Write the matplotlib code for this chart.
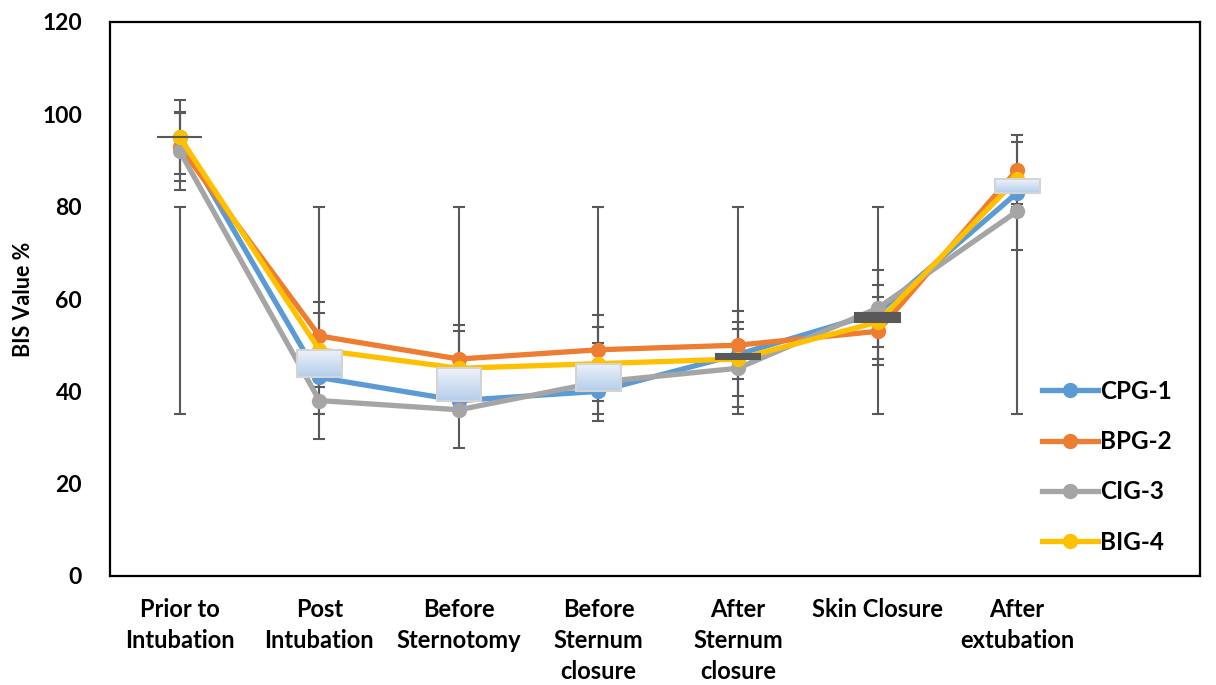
import matplotlib
matplotlib.use("Agg")
import matplotlib.pyplot as plt
import numpy as np
from matplotlib.patches import Rectangle

plt.rcParams['font.family'] = ['Lato', 'DejaVu Sans']

categories = ["Prior to\nIntubation", "Post\nIntubation", "Before\nSternotomy",
              "Before\nSternum\nclosure", "After\nSternum\nclosure", "Skin Closure",
              "After\nextubation"]

cpg1 = [95, 43, 38, 40, 48, 57, 83]
bpg2 = [93, 52, 47, 49, 50, 53, 88]
cig3 = [92, 38, 36, 42, 45, 58, 79]
big4 = [95, 49, 45, 46, 47, 55, 86]

bpg2_sd = [7.4, 7.3, 7.4, 7.5, 7.4, 7.4, 7.5]
cig3_sd = [8.3, 8.3, 8.3, 8.4, 8.4, 8.3, 8.4]
big4_sd = [8, 8, 8, 8, 8, 8, 8]

range_low = [35, 35, 35, 35, 35, 35, 35]
range_high = [80, 80, 80, 80, 80, 80, 80]

colors = {"CPG-1": "#5B9BD5", "BPG-2": "#ED7D31", "CIG-3": "#A5A5A5", "BIG-4": "#FFC000"}
err_col = "#595959"

fig = plt.figure(figsize=(12.16, 6.85), dpi=100)
ax = fig.add_axes([110/1216, 1-576/685, 1090/1216, 554/685])

x = np.arange(len(categories))

# range bars 35-80
lo = np.array(range_low)
hi = np.array(range_high)
ax.errorbar(x, (lo+hi)/2, yerr=(hi-lo)/2, fmt='none', ecolor=err_col,
            elinewidth=1.5, capsize=4.5, capthick=1.5, zorder=1)

for vals, sd in [(bpg2, bpg2_sd), (cig3, cig3_sd), (big4, big4_sd)]:
    ax.errorbar(x, vals, yerr=sd, fmt='none', ecolor=err_col,
                elinewidth=1.5, capsize=4.5, capthick=1.5, zorder=1)

for name, vals in [("CPG-1", cpg1), ("BPG-2", bpg2), ("CIG-3", cig3), ("BIG-4", big4)]:
    ax.plot(x, vals, '-o', color=colors[name], lw=3.8, ms=10, label=name, zorder=3)

# up-down bars between first and last series
bw = 0.32
grad = np.linspace(0, 1, 64).reshape(-1, 1)
cmap = matplotlib.colors.LinearSegmentedColormap.from_list("ud", ["#B4CDEB", "#EEF3FA"])
for xi, a, b in zip(x, cpg1, big4):
    if b > a:
        ax.imshow(grad, extent=[xi-bw/2, xi+bw/2, a, b], origin='lower', cmap=cmap,
                  aspect='auto', zorder=4)
        ax.add_patch(Rectangle((xi-bw/2, a), bw, b-a, fill=False, ec="#D4D4D4", lw=1.5, zorder=5))
    else:
        ax.add_patch(Rectangle((xi-bw/2, b), bw, a-b, fc="#595959", ec="#595959", lw=1.5, zorder=5))

ax.set_xlim(-0.5, 7.31)
ax.set_ylim(0, 120)
ax.set_yticks(range(0, 121, 20))
ax.set_xticks(x)
ax.set_xticklabels(categories, fontsize=17, fontweight='bold', linespacing=1.42, va='top')
for t in ax.get_yticklabels():
    t.set_fontsize(16.5)
    t.set_fontweight('bold')
ax.tick_params(axis='x', length=0, pad=16)
ax.tick_params(axis='y', length=0, pad=20)
ax.set_ylabel("BIS Value %", fontsize=15.5, fontweight='bold', labelpad=6)

for s in ax.spines.values():
    s.set_color('black')
    s.set_linewidth(1.6)

ax.legend(loc='upper left', bbox_to_anchor=(1042/1216, 1-380/685), bbox_transform=fig.transFigure,
          frameon=False, prop={'size': 17.5, 'weight': 'bold'}, handlelength=2.3,
          handletextpad=0.1, labelspacing=1.12, borderpad=0, borderaxespad=0)

fig.savefig("out.png", dpi=100)
